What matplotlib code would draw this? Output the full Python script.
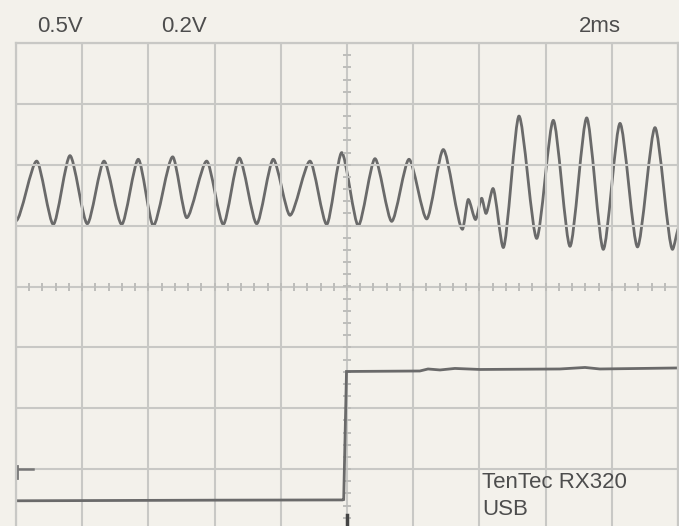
import numpy as np
import matplotlib
matplotlib.use('Agg')
import matplotlib.pyplot as plt
from matplotlib.path import Path
from matplotlib.patches import PathPatch

plt.rcParams['font.family'] = ['Liberation Sans', 'DejaVu Sans']

# 通道1: 波形的峰/谷 (时间 ms, 幅度 格)
ch1_t = [0.0, 0.625, 1.127, 1.631, 2.154, 2.659, 3.193, 3.695, 4.148, 4.734,
         5.157, 5.761, 6.263, 6.746, 7.272, 7.773, 8.278, 8.882, 9.387, 9.840,
         10.341, 10.846, 11.350, 11.873, 12.408, 12.909, 13.489, 13.665, 13.882, 14.069,
         14.199, 14.411, 14.722, 15.196, 15.731, 16.233, 16.737, 17.242, 17.743, 18.248,
         18.776, 19.305, 19.834, 20.03]
ch1_v = [1.08, 2.06, 1.02, 2.15, 1.03, 2.06, 1.02, 2.09, 1.00, 2.13,
         1.13, 2.06, 1.02, 2.11, 1.03, 2.09, 1.17, 2.06, 1.02, 2.20,
         1.00, 2.10, 1.07, 2.09, 1.11, 2.25, 0.94, 1.43, 1.10, 1.45,
         1.20, 1.61, 0.64, 2.80, 0.79, 2.73, 0.66, 2.77, 0.61, 2.68,
         0.65, 2.61, 0.61, 0.97]

# 通道2: 阶跃
ch2_t = [0.06, 6.0, 9.864, 9.90, 9.985, 10.0, 12.2, 12.447, 12.81, 13.26,
         14.02, 16.43, 17.19, 17.64, 20.03]
ch2_v = [-3.52, -3.51, -3.506, -3.50, -1.396, -1.396, -1.388, -1.355, -1.371, -1.346,
         -1.363, -1.355, -1.330, -1.355, -1.338]
ch2_ref = -3.0
trig_t = 10.0

labels_top = ['0.5V', '0.2V', '2ms']
note = ['TenTec RX320', 'USB']

bg = '#f3f1eb'
gridc = '#c8c8c5'
trace = '#6a6a6a'
txtc = '#4d4d4d'


def smooth(xs, ys, k=0.25):
    verts = [(xs[0], ys[0])]
    codes = [Path.MOVETO]
    for i in range(1, len(xs)):
        dx = xs[i] - xs[i - 1]
        verts += [(xs[i - 1] + k * dx, ys[i - 1]), (xs[i] - k * dx, ys[i]), (xs[i], ys[i])]
        codes += [Path.CURVE4] * 3
    return Path(verts, codes)


fig = plt.figure(figsize=(6.79, 5.26), dpi=100, facecolor=bg)
W, H = 679, 526
ax = fig.add_axes([16 / W, (H - 530) / H, 662 / W, 487 / H], facecolor=bg)
ax.set_xlim(0, 20)
ax.set_ylim(-4, 4)
ax.set_xticks(np.arange(0, 21, 2))
ax.set_yticks(np.arange(-4, 5, 1))
ax.tick_params(length=0, labelbottom=False, labelleft=False)
ax.grid(True, color=gridc, lw=1.5)
for s in ax.spines.values():
    s.set_color(gridc)
    s.set_linewidth(1.6)

# 中心刻度
mx = np.arange(0, 20.01, 0.4)
ax.plot(mx, np.zeros_like(mx), ls='none', marker='|', ms=6, mew=1.4, color='#bdbdba')
my = np.arange(-4, 4.01, 0.2)
ax.plot(np.full_like(my, 10.0), my, ls='none', marker='_', ms=6, mew=1.4, color='#bdbdba')

ax.add_patch(PathPatch(smooth(ch1_t, ch1_v), fill=False, ec=trace, lw=2.0,
                       joinstyle='round', capstyle='round'))
ax.plot(ch2_t, ch2_v, color=trace, lw=2.0, solid_joinstyle='miter')

# 通道2 参考标记和触发标记
ax.plot([0, 0.5], [ch2_ref, ch2_ref], color='#777777', lw=1.8)
ax.plot([0.02, 0.02], [ch2_ref + 0.05, ch2_ref - 0.14], color='#777777', lw=2)
ax.plot([trig_t, trig_t], [-3.75, -4], color='#444444', lw=2.5)

fig.text(37 / W, 1 - 32 / H, labels_top[0], fontsize=16, color=txtc, va='baseline')
fig.text(161 / W, 1 - 32 / H, labels_top[1], fontsize=16, color=txtc, va='baseline')
fig.text(579 / W, 1 - 32 / H, labels_top[2], fontsize=16, color=txtc, va='baseline')
fig.text(482 / W, 1 - 488 / H, note[0], fontsize=16, color=txtc, va='baseline')
fig.text(482 / W, 1 - 515 / H, note[1], fontsize=16, color=txtc, va='baseline')

fig.savefig('out.png', dpi=100, facecolor=bg)
